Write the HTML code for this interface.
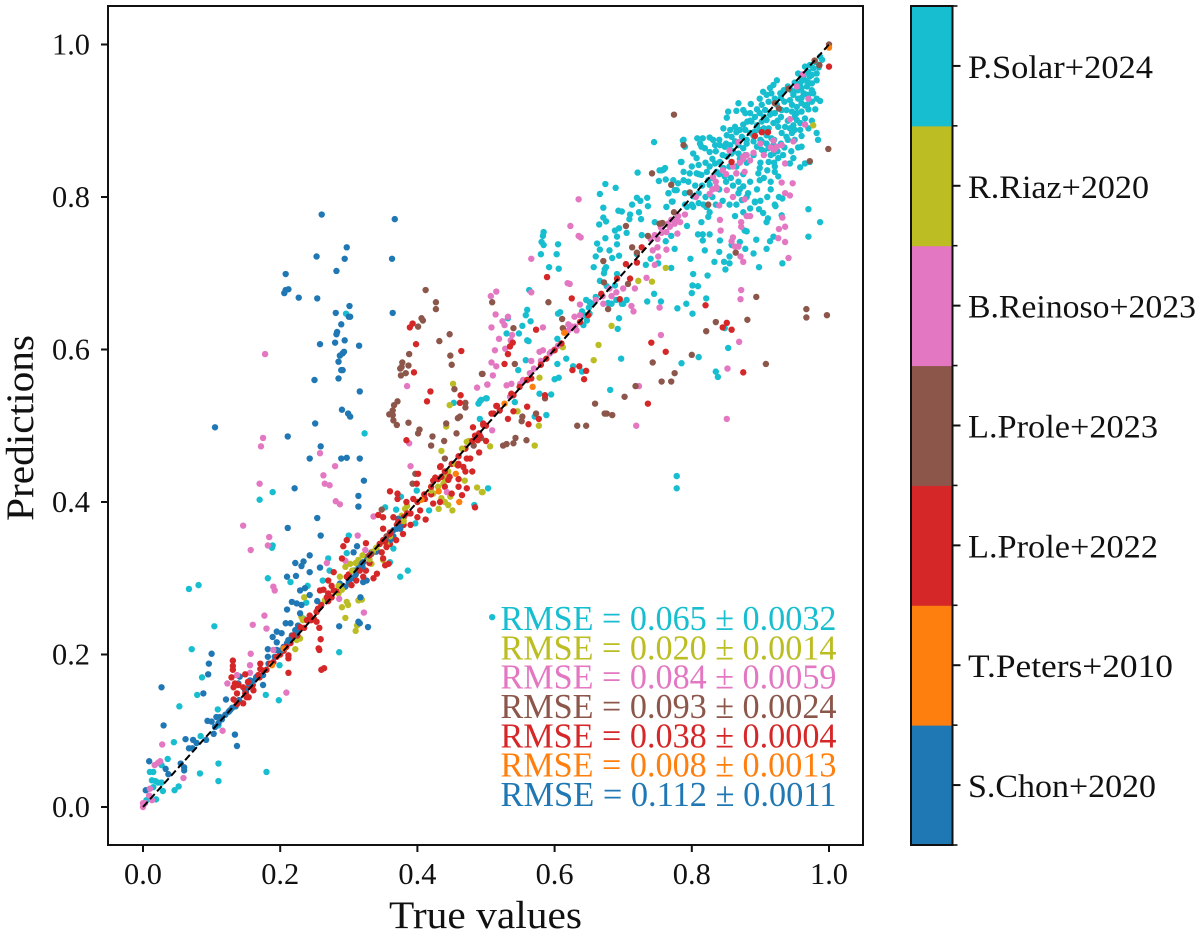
<!DOCTYPE html>
<html lang="en">
<head>
<meta charset="utf-8">
<title>Predictions vs true values</title>
<style>
html,body{margin:0;padding:0;background:#fff;width:1200px;height:936px;overflow:hidden}
svg{display:block}
text{font-family:"Liberation Serif",serif;fill:#111}
</style>
</head>
<body>
<svg id="chart" xmlns="http://www.w3.org/2000/svg" width="1200" height="936" viewBox="0 0 1200 936">
  <g id="marks"></g>
  <line id="diag" stroke="#000" stroke-width="2" stroke-dasharray="7 3.5"></line>
  <g id="legend"></g>
  <rect x="108" y="6" width="755" height="839" fill="none" stroke="#111" stroke-width="2"></rect>
  <g id="ticks"></g>
  <text x="389" y="928" font-size="39" textLength="193" lengthAdjust="spacingAndGlyphs">True values</text>
  <text transform="translate(33,521) rotate(-90)" x="0" y="0" font-size="39" textLength="186" lengthAdjust="spacingAndGlyphs">Predictions</text>
  <g id="colorbar"></g>
</svg>
<script>
const xTicks = [0, 0.2, 0.4, 0.6, 0.8, 1];
const yTicks = [0, 0.2, 0.4, 0.6, 0.8, 1];
const tickLabels = ["0.0", "0.2", "0.4", "0.6", "0.8", "1.0"];
const identityLine = [0, 1];
const seriesNames = ["S.Chon+2020", "T.Peters+2010", "L.Prole+2022", "L.Prole+2023", "B.Reinoso+2023", "R.Riaz+2020", "P.Solar+2024"];
const rmseValues = ["0.112", "0.008", "0.038", "0.093", "0.084", "0.020", "0.065"];
const rmseErrors = ["0.0011", "0.0013", "0.0004", "0.0024", "0.0059", "0.0014", "0.0032"];

const chon = [[.2605,.777],[.367,.771],[.297,.734],[.253,.722],[.294,.719],[.363,.719],[.282,.703],[.208,.699],[.206,.674],[.208,.678],[.212,.679],[.227,.668],[.254,.667],[.301,.657],[.281,.648],[.364,.648],[.300,.643],[.302,.643],[.289,.633],[.283,.623],[.282,.620],[.294,.612],[.280,.609],[.258,.607],[.315,.605],[.293,.597],[.291,.595],[.287,.592],[.285,.584],[.291,.573],[.289,.573],[.250,.560],[.285,.562],[.316,.545],[.290,.521],[.299,.516],[.302,.512],[.251,.503],[.105,.498],
[.211,.486],[.259,.473],[.243,.457],[.289,.457],[.297,.458],[.316,.457],[.322,.428],[.221,.418],[.314,.408],[.314,.394],[.254,.379],[.211,.366],[.259,.356],[.312,.342],[.307,.334],[.243,.330],[.222,.320],[.234,.322],[.231,.316],[.243,.308],[.258,.314],[.210,.302],[.223,.303],[.229,.284],[.236,.287],[.243,.278],[.217,.269],[.224,.267],[.231,.265],[.254,.270],[.210,.259],[.208,.241],[.215,.241],[.226,.238],[.229,.254],[.316,.241],[.328,.236],[.286,.237],[.314,.243],[.317,.275],[.195,.230],[.202,.228],[.189,.223],[.195,.216],[.182,.207],[.195,.206],[.182,.197],[.192,.197],[.212,.219],[.217,.225],[.222,.232],[.228,.236],[.100,.201],[.096,.188],[.095,.174],[.088,.149],[.027,.157],[.030,.107],[.134,.095],[.137,.080],[.175,.173],[.175,.160],[.154,.162],[.166,.171],[.141,.171],[.139,.162],[.149,.153],[.121,.141],[.127,.127],[.120,.121],[.112,.118],[.107,.118],[.100,.112],[.094,.113],[.105,.105],[.103,.096],[.092,.088],[.073,.088],[.078,.084],[.062,.089],[.067,.077],[.072,.077],[.055,.057],[.060,.052],[.060,.048],[.037,.043],[.033,.050],[.009,.060],[.004,.022],[.292,.289],[.299,.300],[.307,.310],[.314,.317],[.321,.321],[.326,.328],[.333,.334],[.365,.363],[.375,.372],[.372,.378],[.377,.376],[.287,.293],[.295,.289],[.321,.295],[.326,.297],[.183,.188],[.156,.166]];
const chonBand = [[.11,.11],[.115,.115],[.125,.125],[.13,.13],[.135,.132],[.14,.14],[.15,.152],[.16,.165],[.165,.17],[.20,.205],[.205,.21],[.21,.215],[.215,.22],[.22,.225],[.225,.23],[.30,.295],[.305,.30],[.31,.305],[.32,.315],[.33,.325],[.34,.335],[.375,.365],[.37,.365],[.365,.355],[.36,.35]];

const solar = [[.745,.872],[.787,.874],[.721,.832],[.753,.835],[.759,.836],[.752,.821],[.762,.823],[.785,.846],[.674,.817],[.689,.812],[.666,.804],[.671,.786],[.671,.773],[.675,.768],[.665,.764],[.693,.782],[.698,.781],[.713,.790],[.720,.799],[.725,.795],[.735,.799],[.736,.788],[.723,.780],[.710,.777],[.709,.771],[.726,.771],[.688,.756],[.694,.759],[.705,.753],[.674,.746],[.691,.748],[.691,.738],[.727,.750],[.662,.739],[.666,.731],[.680,.730],[.660,.722],[.684,.720],[.694,.723],[.657,.708],[.675,.708],[.672,.700],[.673,.705],[.584,.754],[.583,.749],[.581,.741],[.584,.737],[.605,.738],[.580,.725],[.603,.725],[.592,.708],[.606,.706],[.666,.690],[.676,.683],[.688,.684],[.691,.699],[.660,.669],[.646,.665],[.651,.662],[.678,.661],[.683,.660],[.698,.660],[.735,.663],[.755,.663],[.745,.673],[.779,.654],[.792,.660],[.801,.647],[.694,.641],[.692,.627],[.563,.678],[.560,.652],[.558,.645],[.565,.637],[.553,.631],[.548,.621],[.530,.621],[.532,.641],[.605,.647],[.608,.649],[.560,.612],[.562,.611],[.604,.614],[.558,.586],[.547,.573],[.604,.581],[.617,.588],[.640,.571],[.697,.588],[.627,.578],[.600,.561],[.606,.563],[.681,.547],[.578,.542],[.595,.541],[.588,.514],[.571,.512],[.542,.531],[.500,.536],[.491,.532],[.785,.582],[.810,.590],[.835,.571],[.838,.564],[.853,.602],[.848,.628],[.802,.699],[.823,.697],[.798,.719],[.801,.684],[.809,.683],[.800,.674],[.821,.667],[.809,.751],[.816,.751],[.826,.751],[.816,.743],[.819,.730],[.840,.728],[.841,.743],[.833,.715],[.847,.715],[.855,.713],[.849,.705],[.855,.722],[.858,.737],[.863,.775],[.877,.756],[.880,.755],[.870,.741],[.878,.732],[.894,.744],[.890,.726],[.898,.708],[.909,.732],[.914,.742],[.919,.748],[.932,.713],[.970,.748],[.987,.767],[.970,.784],[.911,.772],[.909,.767],[.904,.779],[.898,.784],[.922,.788],[.892,.793],[.931,.776],[.927,.800],[.932,.798],[.814,.767],[.821,.787],[.826,.780],[.824,.774],[.763,.787],[.771,.794],[.766,.805],[.775,.809],[.802,.787],[.793,.787],[.746,.767],[.793,.762],[.762,.742],[.775,.732],[.770,.749],[.770,.707],[.740,.719],[.733,.711],[.751,.713],
[.987,.984],[.980,.977],[.972,.973],[.965,.971],[.955,.962],[.963,.960],[.970,.964],[.977,.969],[.982,.962],[.972,.958],[.965,.953],[.958,.949],[.982,.953],[.975,.949],[.968,.945],[.960,.943],[.953,.940],[.948,.934],[.955,.929],[.963,.936],[.970,.934],[.977,.936],[.982,.929],[.987,.926],[.975,.925],[.968,.921],[.960,.923],[.953,.918],[.946,.921],[.943,.927],[.938,.914],[.946,.912],[.953,.910],[.960,.912],[.953,.901],[.948,.894],[.958,.897],[.965,.903],[.958,.888],[.950,.888],[.943,.890],[.936,.892],[.931,.884],[.938,.879],[.946,.884],[.924,.953],[.919,.947],[.914,.943],[.916,.936],[.909,.934],[.904,.938],[.899,.929],[.902,.921],[.912,.925],[.921,.929],[.929,.936],[.934,.940],[.924,.921],[.931,.914],[.921,.910],[.914,.908],[.907,.914],[.899,.910],[.892,.905],[.885,.910],[.878,.910],[.881,.899],[.887,.899],[.895,.894],[.902,.899],[.909,.901],[.919,.897],[.926,.892],[.912,.890],[.899,.888],[.892,.886],[.885,.884],[.878,.888],[.870,.888],[.863,.892],[.856,.888],[.846,.890],[.851,.881],[.858,.879],[.873,.879],[.909,.881],[.916,.877],[.909,.870],[.902,.873],[.895,.866],[.902,.862],[.912,.864],[.919,.868],[.863,.873],[.856,.868],[.848,.866],[.841,.868],[.834,.868],[.826,.859],[.831,.875],[.826,.878],[.816,.877],[.808,.877],[.812,.870],[.814,.866],[.819,.864],[.802,.857],[.807,.851],[.810,.842],[.797,.831],[.807,.831],[.814,.829],[.822,.833],[.826,.840],[.834,.844],[.841,.846],[.851,.853],[.858,.857],[.868,.868],[.880,.870],[.890,.873],[.875,.864],[.868,.857],[.878,.855],[.919,.857],[.926,.851],[.933,.855],[.912,.846],[.899,.838],[.897,.831],[.899,.822],[.921,.833],[.926,.827],[.960,.866],[.984,.875],[.982,.884],[.868,.923],[.886,.922],[.875,.914],[.865,.913],[.853,.912],[.851,.904],[.788,.875],[.784,.846],[.761,.838],[.756,.835],[.790,.866],[.788,.833],[.773,.822],[.780,.818],[.788,.822],[.766,.805],[.778,.809],[.763,.787],[.772,.794],[.790,.805],[.802,.801],[.824,.822],[.826,.816],[.810,.792],[.817,.790],[.822,.787],[.868,.820],[.875,.814],[.868,.805],[.873,.796],[.882,.805],[.892,.794],[.921,.790],[.958,.839],[.965,.844],[.972,.846],[.943,.844],[.948,.851],[.921,.840],[.865,.831],[.848,.827],[.857,.825],[.846,.838],[.836,.833],
[.323,.490],[.189,.413],[.170,.403],[.300,.356],[.297,.333],[.270,.326],[.272,.310],[.262,.297],[.182,.300],[.215,.295],[.189,.343],[.188,.340],[.240,.290],[.238,.268],[.234,.247],[.067,.286],[.081,.291],[.104,.237],[.071,.207],[.086,.170],[.079,.147],[.053,.132],[.109,.128],[.084,.093],[.045,.085],[.199,.186],[.179,.147],[.198,.140],[.110,.057],[.083,.044],[.110,.034],[.180,.046],[.036,.063],[.052,.027],[.046,.022],[.029,.021],[.019,.010],[.010,.046],[.015,.046],[.027,.055],[.013,.035],[.018,.034],[.022,.032],[.015,.026],[.027,.032],[.010,.011],[.005,.009],[.110,.107],[.286,.203],[.509,.249],[.375,.302],[.386,.310],[.360,.321],[.365,.339],[.353,.393],[.369,.390],[.376,.407],[.397,.372],[.417,.389],[.399,.415],[.503,.418],[.483,.396],[.778,.434],[.778,.418],[.296,.647],[.489,.529],[.493,.534],[.501,.536],[.491,.509],[.453,.530],[.651,.647],[.647,.638],[.642,.632]];
const solarDense = [[.93,.93],[.94,.945],[.95,.95],[.96,.955],[.97,.95],[.975,.96],[.985,.97],[.99,.98],[.96,.93],[.97,.915],[.98,.915],[.965,.92],[.95,.905],[.94,.90],[.93,.905],[.925,.90],[.915,.91],[.935,.925],[.945,.94],[.955,.94],[.965,.935],[.975,.94],[.94,.875],[.95,.875],[.96,.88],[.97,.89],[.975,.90],[.93,.87],[.92,.875],[.905,.89],[.905,.905],[.895,.915],[.885,.90],[.875,.895],[.865,.885],[.88,.875],[.89,.88],[.90,.875],[.905,.86],[.915,.855],[.925,.86],[.935,.865],[.945,.86],[.955,.865],[.85,.87],[.84,.875],[.835,.86],[.845,.855],[.86,.86],[.87,.85],[.88,.845],[.89,.855],[.90,.845],[.91,.835],[.92,.845],[.83,.85],[.82,.845],[.81,.83],[.80,.84],[.795,.82],[.805,.815],[.815,.815],[.83,.825],[.84,.83],[.855,.84],[.865,.84],[.875,.83],[.885,.82],[.895,.81],[.88,.80],[.87,.81],[.86,.815],[.85,.82],[.84,.81],[.83,.80],[.82,.80],[.81,.805],[.80,.79],[.79,.79],[.905,.825],[.915,.82],[.915,.81],[.91,.80],[.90,.795],[.885,.785],[.875,.78],[.865,.79],[.855,.79],[.845,.795],[.835,.79],[.65,.655],[.64,.65],[.645,.645],[.655,.66],[.69,.665],[.70,.66],[.705,.665],[.72,.725]];

const reinoso = [[.635,.797],[.623,.762],[.635,.749],[.638,.747],[.566,.719],[.619,.687],[.622,.686],[.566,.675],[.515,.676],[.507,.670],[.637,.659],[.514,.646],[.532,.643],[.524,.637],[.527,.632],[.508,.629],[.583,.629],[.538,.619],[.536,.612],[.519,.614],[.528,.601],[.513,.599],[.508,.583],[.515,.578],[.510,.566],[.502,.554],[.530,.553],[.537,.555],[.566,.585],[.578,.597],[.583,.599],[.595,.597],[.629,.643],[.637,.645],[.620,.633],[.632,.625],[.671,.660],[.683,.670],[.700,.680],[.717,.680],[.734,.694],[.712,.657],[.715,.650],[.753,.655],[.743,.730],[.750,.734],[.763,.731],[.751,.722],[.746,.711],[.746,.750],[.756,.753],[.763,.754],[.768,.761],[.778,.770],[.783,.767],[.790,.777],[.779,.752],[.806,.800],[.826,.804],[.836,.813],[.840,.789],[.841,.770],[.842,.756],[.860,.747],[.858,.742],[.868,.735],[.863,.735],[.871,.722],[.875,.715],[.872,.767],[.872,.761],[.880,.775],[.885,.775],[.877,.797],[.931,.819],[.936,.805],[.943,.802],[.947,.818],[.932,.773],[.936,.761],[.936,.741],[.926,.746],[.927,.758],[.941,.720],[.872,.678],[.871,.666],[.755,.619],[.869,.610],[.852,.575],[.851,.509],[.719,.500],[.723,.552],[.865,.831],[.877,.833],[.885,.848],[.890,.858],[.875,.853],[.924,.866],[.931,.868],[.936,.844],[.948,.873],[.965,.895],[.919,.874],[.943,.902],[.970,.929],[.953,.945],[.962,.961],[.868,.872],[.855,.861],[.831,.826],[.836,.811],[.851,.809],[.860,.800],[.564,.569],[.593,.595],[.554,.560],[.535,.538],[.178,.594],[.385,.552],[.487,.550],[.502,.554],
[.175,.484],[.172,.473],[.258,.464],[.280,.447],[.390,.447],[.263,.435],[.265,.424],[.272,.422],[.170,.424],[.281,.401],[.287,.397],[.146,.369],[.184,.354],[.182,.343],[.157,.337],[.313,.356],[.336,.381],[.388,.477],[.268,.320],[.295,.323],[.324,.337],[.190,.289],[.192,.284],[.177,.251],[.160,.239],[.180,.234],[.322,.255],[.286,.273],[.190,.206],[.157,.201],[.156,.186],[.156,.176],[.137,.173],[.123,.162],[.209,.150],[.116,.100],[.028,.082],[.059,.038],[.022,.058],[.017,.055],[.025,.060],[0,0],[.003,.005],[0,.005],[.010,.024],[.009,.015],[.013,.009],[.443,.413],[.509,.494]];
const reinosoBand = [[.62,.625],[.625,.63],[.63,.63],[.66,.665],[.67,.67],[.68,.68],[.69,.675],[.74,.745],[.75,.745],[.755,.76],[.765,.765],[.77,.77],[.775,.765],[.78,.775],[.83,.81],[.835,.82],[.845,.835],[.85,.83],[.86,.84],[.87,.845],[.875,.85],[.88,.855],[.90,.87],[.905,.855],[.915,.865],[.92,.862],[.60,.60],[.605,.605],[.58,.585],[.57,.575],[.55,.555],[.56,.56]];

const proleB = [[.774,.908],[.788,.868],[.742,.831],[.770,.816],[.797,.806],[.774,.780],[.753,.765],[.757,.766],[.704,.762],[.736,.749],[.713,.734],[.720,.727],[.671,.716],[.672,.688],[.707,.686],[.591,.662],[.509,.662],[.678,.653],[.611,.640],[.612,.628],[.540,.628],[.542,.581],[.494,.568],[.800,.593],[.743,.583],[.908,.581],[.894,.669],[.881,.639],[.835,.636],[.821,.624],[.967,.653],[.967,.642],[.997,.645],[.999,.863],[.972,.847],[.775,.569],[.756,.558],[.770,.558],[.718,.552],[.702,.538],[.659,.529],[.673,.516],[.676,.516],[.684,.514],[.633,.500],[.646,.500],[.586,.536],[.573,.516],[.553,.512],[.552,.506],[1,1],[.927,.916],[.921,.923],[.941,.942],[.979,.979],[.986,.973],[.824,.790],[.864,.727],
[.412,.678],[.427,.662],[.427,.653],[.406,.641],[.408,.638],[.401,.630],[.432,.611],[.447,.620],[.388,.594],[.448,.592],[.450,.580],[.378,.583],[.377,.577],[.387,.579],[.375,.575],[.383,.569],[.376,.566],[.495,.568],[.454,.548],[.470,.530],[.470,.524],[.371,.532],[.366,.527],[.364,.520],[.359,.515],[.364,.514],[.365,.507],[.370,.501],[.387,.504],[.442,.503],[.462,.512],[.459,.510],[.403,.495],[.401,.490],[.422,.486],[.420,.474],[.439,.480],[.457,.490],[.440,.457],[.482,.474],[.397,.437],[.393,.424],[.348,.390],[.355,.355],[.333,.332],[.525,.474],[.530,.476],[.540,.477],[.543,.484],[.559,.481],[.493,.484]];

const proleA = [[.389,.629],[.393,.634],[.398,.607],[.464,.598],[.395,.570],[.419,.545],[.414,.532],[.463,.540],[.462,.530],[.481,.498],[.496,.503],[.516,.526],[.511,.516],[.589,.695],[.625,.667],[.573,.626],[.539,.609],[.535,.604],[.532,.594],[.527,.581],[.820,.658],[.845,.629],[.851,.635],[.858,.626],[.741,.609],[.762,.597],[.875,.570],[.736,.529],[.626,.573],[.636,.578],[.646,.572],[.643,.561],[1,.971],[.727,.734],[.720,.714],[.704,.712],[.710,.693],[.691,.693],[.695,.666],[.668,.673],[.892,.880],[.902,.885],[.911,.885],[.858,.846],[.637,.636],[.649,.645],[.610,.608],[.600,.599],[.588,.588],[.566,.562],[.549,.551],[.537,.542],[.515,.526],[.508,.516],[.496,.501],[.560,.525],[.540,.519],[.532,.509],[.562,.502],[.577,.509],[.586,.540],
[.434,.447],[.435,.433],[.445,.429],[.459,.448],[.360,.414],[.371,.411],[.371,.404],[.384,.400],[.401,.437],[.399,.424],[.433,.446],[.426,.432],[.447,.433],[.467,.446],[.484,.487],[.477,.457],[.465,.409],[.472,.418],[.460,.420],[.450,.411],[.433,.400],[.423,.398],[.404,.389],[.412,.377],[.394,.404],[.484,.393],[.384,.481],[.423,.428],[.411,.404],[.343,.383],[.350,.380],[.365,.380],[.372,.374],[.350,.365],[.360,.358],[.369,.350],[.379,.358],[.353,.348],[.355,.341],[.348,.334],[.350,.326],[.358,.319],[.353,.317],[.341,.306],[.336,.300],[.325,.346],[.297,.350],[.292,.342],[.316,.310],[.321,.302],[.311,.297],[.304,.291],[.297,.302],[.290,.326],[.278,.308],[.270,.297],[.263,.285],[.258,.284],[.278,.284],[.268,.275],[.253,.256],[.249,.247],[.253,.243],[.257,.235],[.259,.220],[.256,.208],[.257,.206],[.260,.180],[.264,.182],[.212,.199],[.212,.176],[.212,.195],[.239,.245],[.243,.251],[.229,.236],[.219,.225],[.209,.210],[.195,.197],[.185,.188],[.175,.179],[.168,.173],[.171,.181],[.171,.188],[.131,.192],[.131,.185],[.131,.180],[.129,.170],[.149,.174],[.134,.162],[.139,.160],[.132,.157],[.137,.149],[.149,.149],[.151,.144],[.132,.141],[.137,.135],[.146,.136],[.146,.157],[.153,.164],[.154,.144],[.161,.153],[.491,.487],[.488,.481],[.472,.457],[.460,.450],[.33,.33],[.345,.345],[.36,.36],[.385,.385],[.40,.40],[.42,.42],[.44,.44],[.46,.46],[.48,.48],[.50,.50],[.52,.52],[.54,.54],[.56,.56],[.58,.58]];
const proleABand = [[.14,.14],[.15,.15],[.155,.158],[.16,.16],[.165,.17],[.17,.17],[.18,.18],[.19,.19],[.20,.20],[.205,.205],[.215,.215],[.225,.225],[.235,.235],[.245,.245],[.255,.26],[.26,.265],[.27,.27],[.275,.275],[.285,.285],[.30,.305],[.31,.31],[.32,.32],[.34,.335],[.35,.35],[.37,.37],[.38,.38],[.39,.385],[.41,.41],[.43,.43],[.45,.45],[.47,.47],[.49,.49],[.27,.28],[.275,.29],[.31,.305],[.325,.31],[.33,.32],[.36,.345],[.38,.37],[.39,.37],[.40,.38],[.42,.41],[.44,.42],[.46,.43],[.47,.44],[.50,.48],[.49,.465],[.48,.44]];

const riaz = [[.435,.467],[.472,.479],[.506,.473],[.469,.428],[.487,.419],[.495,.413],[.448,.407],[.445,.396],[.451,.389],[.431,.391],[.438,.424],[.423,.411],[.443,.433],[.382,.391],[.377,.382],[.365,.354],[.341,.337],[.350,.324],[.333,.319],[.302,.319],[.314,.324],[.295,.315],[.287,.302],[.314,.271],[.319,.272],[.297,.269],[.290,.262],[.299,.265],[.295,.248],[.312,.238],[.310,.231],[.285,.280],[.265,.271],[.231,.249],[.233,.245],[.229,.221],[.224,.219],[.222,.207],[.235,.275],[.571,.474],[.494,.413],[.762,.707],[.722,.690],[.742,.689],[.683,.631],[.664,.606],[.657,.586],[.578,.563],[.577,.500],[.546,.519],[.977,.894],[.612,.603],[.452,.555],[.447,.527],[.442,.499]];
const riazBand = [[.285,.29],[.29,.285],[.305,.31],[.31,.32],[.32,.33],[.33,.325],[.335,.335],[.345,.345],[.34,.34],[.355,.345],[.36,.355],[.38,.375],[.385,.395],[.42,.415],[.43,.42],[.44,.43],[.445,.44],[.455,.45],[.465,.47],[.475,.48],[.435,.405],[.44,.40]];

const peters = [[1,.996],[.614,.622],[.568,.551],[.527,.529],[.456,.437],[.431,.414],[.406,.403],[.461,.400],[.188,.186],[.205,.208]];

const seriesColors = ["#1f77b4", "#ff7f0e", "#d62728", "#8c564b", "#e377c2", "#bcbd22", "#17becf"];
const NS = "http://www.w3.org/2000/svg";
function xPos(v){ return 143 + 686 * v; }
function yPos(v){ return 807 - 762.5 * v; }
function make(tag, attrs, parent){
  const el = document.createElementNS(NS, tag);
  for (const k in attrs) el.setAttribute(k, attrs[k]);
  parent.appendChild(el);
  return el;
}

const marks = document.getElementById("marks");
const drawOrder = [[solar,6],[solarDense,6],[riaz,5],[proleABand,2],[chon,0],[chonBand,0],[riazBand,5],[reinoso,4],[reinosoBand,4],[proleB,3],[proleA,2],[peters,1]];
drawOrder.forEach(function(entry){
  const g = make("g", {fill: seriesColors[entry[1]]}, marks);
  
  
  entry[0].forEach(function(p){
    const c = make("circle", {cx: xPos(p[0]), cy: yPos(p[1]), r: 3.2}, g);
    
    
  });
});

const diag = document.getElementById("diag");
diag.setAttribute("x1", xPos(identityLine[0]));
diag.setAttribute("y1", yPos(identityLine[0]));
diag.setAttribute("x2", xPos(identityLine[1]));
diag.setAttribute("y2", yPos(identityLine[1]));

const legend = document.getElementById("legend");
for (let i = 0; i < seriesNames.length; i++) {
  const t = make("text", {x: 500.5, y: 806 - 29.35 * i, "font-size": 35, textLength: 336, lengthAdjust: "spacingAndGlyphs"}, legend);
  
  
  t.style.fill = seriesColors[i];
  t.textContent = "RMSE = " + rmseValues[i] + " ± " + rmseErrors[i];
}

const ticks = document.getElementById("ticks");
xTicks.forEach(function(v, i){
  const l = make("line", {x1: xPos(v), x2: xPos(v), y1: 845, y2: 852, stroke: "#111", "stroke-width": 2}, ticks);
  
  
  const t = make("text", {x: xPos(v) - 19, y: 884, "font-size": 31, textLength: 38, lengthAdjust: "spacingAndGlyphs"}, ticks);
  
  
  t.textContent = tickLabels[i];
});
yTicks.forEach(function(v, i){
  const l = make("line", {x1: 101, x2: 108, y1: yPos(v), y2: yPos(v), stroke: "#111", "stroke-width": 2}, ticks);
  
  
  const t = make("text", {x: 52, y: yPos(v) + 10, "font-size": 31, textLength: 38, lengthAdjust: "spacingAndGlyphs"}, ticks);
  
  
  t.textContent = tickLabels[i];
});

const cbar = document.getElementById("colorbar");
const cbarWidths = [188, 205, 190, 190, 228, 181, 185];
const cbTop = 6, cbBottom = 845, cbLeft = 911, cbRight = 952.5;
const segH = (cbBottom - cbTop) / seriesNames.length;
seriesNames.forEach(function(name, i){
  const y1 = cbBottom - segH * (i + 1);
  const r = make("rect", {x: cbLeft, y: y1, width: cbRight - cbLeft, height: segH + 0.5, fill: seriesColors[i]}, cbar);
  
  
  const mid = y1 + segH / 2;
  const tk = make("line", {x1: cbRight, x2: cbRight + 8, y1: mid, y2: mid, stroke: "#111", "stroke-width": 2}, cbar);
  
  
  const t = make("text", {x: 968, y: mid + 12, "font-size": 33, textLength: cbarWidths[i], lengthAdjust: "spacingAndGlyphs"}, cbar);
  
  
  t.textContent = name;
});
for (let i = 0; i <= seriesNames.length; i++) {
  const y = cbBottom - segH * i;
  const m = make("line", {x1: cbRight, x2: cbRight + 5, y1: y, y2: y, stroke: "#111", "stroke-width": 1.6}, cbar);
  
  
}
const frame = make("rect", {x: cbLeft, y: cbTop, width: cbRight - cbLeft, height: cbBottom - cbTop, fill: "none", stroke: "#111", "stroke-width": 2}, cbar);


</script>
</body>
</html>
